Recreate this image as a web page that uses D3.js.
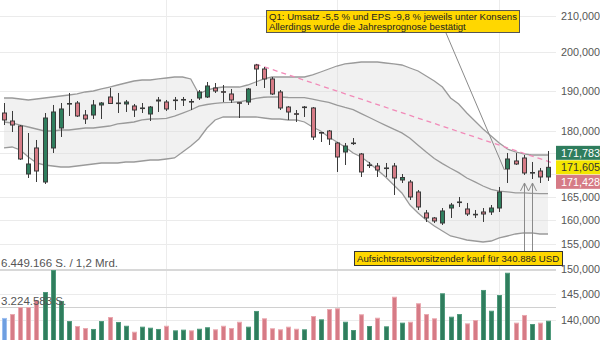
<!DOCTYPE html>
<html><head><meta charset="utf-8">
<script src="https://cdn.jsdelivr.net/npm/d3@7/dist/d3.min.js"></script>
<style>
body{margin:0;background:#fff;}
svg{display:block;font-family:"Liberation Sans",Arial,sans-serif;}
</style>
</head><body>
<svg id="chart" width="600" height="340"></svg>
<script>
// ---------- data ----------
const openP  = [184460,182510,181300,170090,176080,168290,176080,180820,186690,186930,183970,183970,186440,188430,186860,186690,186190,185620,184220,187430,187180,187600,187730,187310,188180,188430,190700,189770,189190,187010,187180,196620,195580,193000,189690,185940,184290,185870,185700,179740,180100,177250,175140,177180,174680,172070,171910,171390,171910,168740,168290,166070,161500,160430,159360,162570,163800,162360,161220,161710,161710,162570,171230,173060,173750,170360,170770,169420];
const highP  = [186930,184960,181540,179620,177960,184460,186440,186930,189440,187430,185200,187680,187180,190700,189440,187680,186690,186930,186190,188430,187680,188430,188430,187930,190190,192230,191970,191460,190450,187180,190700,196880,196100,193510,190190,186190,185200,186190,185940,179860,180340,177490,177250,178430,174910,172830,172600,172600,172600,170090,168740,166510,162140,160640,162570,163660,164970,163660,162140,162570,163220,167180,174910,174910,174440,172830,171460,175370];
const lowP   = [181540,179860,173290,169190,168290,167850,174910,178670,183730,183490,181790,183000,183000,186690,184460,184710,183490,184460,182510,184710,184960,185200,186190,185200,187680,188180,189440,187180,186930,183240,186440,191210,190700,188930,185200,182760,182270,183490,177960,177490,176780,170550,172140,176780,169420,171460,169420,169420,165410,168070,164310,162140,159580,159360,158940,160430,162790,160850,160430,159580,161070,161710,168070,172140,169870,168960,168070,168520];
const closeP = [182760,181540,173520,172370,170770,183240,184710,185450,186810,183730,183000,186440,186930,186810,186930,187180,185200,185700,185940,187680,185450,187680,187810,187180,189690,191210,189940,189690,187680,186930,190450,195580,193000,189190,185700,184710,184220,185940,178670,179620,178200,173980,176540,177250,170550,172140,171000,171460,169190,169300,164970,162790,160430,159790,161930,163220,163880,161280,161130,161280,162570,166070,173520,172370,170320,170430,169420,171605];
const volume = [2270000,2610000,3220000,3220000,3830000,4530000,6449166,3750000,2000000,1570000,1390000,1310000,2000000,2350000,1920000,1590000,1070000,1510000,1420000,1310000,1590000,1190000,1250000,1190000,1330000,1460000,1280000,1590000,1390000,1940000,1510000,2880000,2240000,1370000,1280000,1510000,1330000,1280000,2440000,2150000,3050000,3110000,1940000,1220000,2590000,1570000,2290000,1540000,4120000,1860000,1940000,3550000,2610000,2240000,4420000,2380000,2610000,1800000,2090000,4710000,2900000,4270000,6210000,1860000,2530000,1740000,1860000,2030000];
const bandUpper = [188180,188180,187930,187680,187930,188180,188430,188680,188930,189190,189690,189940,190450,190950,191460,191970,192480,192740,192740,193000,193250,193510,193510,193000,189190,190190,190700,190950,190950,190950,191460,192230,193000,193510,193510,193510,193510,193510,194030,194800,195580,196360,196890,197150,197410,197410,197410,197150,196890,196620,195840,195060,193770,192480,190950,188180,186690,184460,182510,180580,178910,177250,175840,175140,174680,174440,174440,174440];
const bandMiddle = [182270,182030,181540,181060,180580,180100,180100,180340,180340,180580,180820,180820,181060,181300,181790,182030,182270,182760,183000,183020,183140,183710,184440,185200,186160,186560,186830,187030,187080,187240,187620,188070,188370,188480,188430,188310,188260,188260,187880,187480,187110,186390,185820,185300,184320,183360,182390,181470,180530,179650,178360,176730,175120,173640,172460,171390,170390,169190,168310,167400,166640,166250,166110,165870,165870,165780,165690,165720];
const bandLower = [176080,176310,175610,173980,172600,172140,171910,171680,171680,171910,172140,172370,172600,172600,172600,172830,172830,173060,173290,173290,173520,173750,175140,176540,178200,180820,182760,183490,183490,183490,183490,183490,183240,183000,183000,182760,182760,182270,181060,180100,178670,177490,176310,174910,173980,172600,171000,169420,167620,165850,163220,161500,160000,158730,157680,156630,156220,155800,155590,155390,155590,156220,156630,157050,157260,157260,157050,157050];
const priceTicks = [210000,200000,190000,180000,175000,170000,165000,160000,155000,150000,145000,140000];
const monthStarts = [20, 41, 61];
const trendLine = [{i:31, v:196880}, {i:67.6, v:172600}];
const quotes = [
  {label:"171,783", kind:"bid"},
  {label:"171,605", kind:"last", v:171605},
  {label:"171,428", kind:"ask"}
];
const volumeMax = 6449166;
const volumeLabels = ["6.449.166 S. / 1,2 Mrd.", "3.224.583 S."];
const note1 = {lines:["Q1: Umsatz -5,5 % und EPS -9,8 % jeweils unter Konsens","Allerdings wurde die Jahresprognose bestätigt"], target:{i:62, v:171000}};
const note2 = {lines:["Aufsichtsratsvorsitzender kauf für 340.886 USD"], targets:[{i:64, v:168070},{i:65, v:168070}]};

// ---------- scales ----------
const svg = d3.select("#chart");
const W = 600, H = 340;
const n = closeP.length;
const x = d3.scaleLinear().domain([0, n - 1]).range([4, 548]);
const y = d3.scaleLog().domain([210000, 140000]).range([15.5, 320.4]);
const yv = d3.scaleLinear().domain([0, volumeMax]).range([344, 270]);
const gridRight = 556;

const RED = "#d67b86", GREEN = "#2f7d5d", DARK = "#3a3a3a";

// grid
svg.append("g").selectAll("line").data(priceTicks).join("line")
  .attr("x1", 0).attr("x2", gridRight)
  .attr("y1", d => Math.round(y(d)) + 0.5).attr("y2", d => Math.round(y(d)) + 0.5)
  .attr("stroke", "#ebebeb");
svg.append("g").selectAll("line").data(monthStarts).join("line")
  .attr("x1", d => Math.round(x(d)) + 0.5).attr("x2", d => Math.round(x(d)) + 0.5)
  .attr("y1", 0).attr("y2", H).attr("stroke", "#ececec");

// volume guide lines
svg.append("line").attr("x1", 0).attr("x2", gridRight)
  .attr("y1", yv(volumeMax)).attr("y2", yv(volumeMax))
  .attr("stroke", "#d8d8d8").attr("stroke-width", 2);
svg.append("line").attr("x1", 0).attr("x2", gridRight)
  .attr("y1", Math.round(yv(volumeMax / 2)) + 0.5).attr("y2", Math.round(yv(volumeMax / 2)) + 0.5)
  .attr("stroke", "#d0d0d0");

// bollinger band fill
const idx = d3.range(n);
svg.append("path").datum(idx)
  .attr("d", d3.area().x(i => x(i)).y0(i => y(bandLower[i])).y1(i => y(bandUpper[i])))
  .attr("fill", "#dcdcdc").attr("fill-opacity", 0.4);
[bandUpper, bandMiddle, bandLower].forEach(b => {
  svg.append("path").datum(idx)
    .attr("d", d3.line().x(i => x(i)).y(i => y(b[i])))
    .attr("fill", "none").attr("stroke", "#9a9a9a").attr("stroke-width", 1.3);
});

// trend line
svg.append("path").datum(trendLine)
  .attr("d", d3.line().x(d => x(d.i)).y(d => y(d.v)))
  .attr("stroke", "#f28ab8").attr("stroke-width", 1.3).attr("stroke-dasharray", "5,4").attr("fill", "none");

// volume bars
svg.append("g").selectAll("rect").data(idx).join("rect")
  .attr("x", i => Math.round(x(i)) - 2 + 0.5)
  .attr("width", 4)
  .attr("y", i => yv(volume[i]) + 0.5)
  .attr("height", i => yv(0) - yv(volume[i]))
  .attr("fill", i => i === 0 ? "#6f9fe0" : (closeP[i] >= closeP[i - 1] ? GREEN : RED))
  .attr("stroke", i => i === 0 ? "#9dbff0" : (closeP[i] >= closeP[i - 1] ? "#4f9a7c" : "#eaa9b0"))
  .attr("stroke-width", 1);

// candles
const cg = svg.append("g");
cg.selectAll("line").data(idx).join("line")
  .attr("x1", i => Math.round(x(i)) + 0.5).attr("x2", i => Math.round(x(i)) + 0.5)
  .attr("y1", i => y(highP[i])).attr("y2", i => y(lowP[i]))
  .attr("stroke", DARK).attr("stroke-width", 1);
cg.selectAll("rect").data(idx).join("rect")
  .attr("x", i => Math.round(x(i)) - 2 + 0.5)
  .attr("width", 4)
  .attr("y", i => Math.min(y(openP[i]), y(closeP[i])))
  .attr("height", i => Math.max(0.6, Math.abs(y(openP[i]) - y(closeP[i]))))
  .attr("fill", i => closeP[i] >= openP[i] ? GREEN : RED)
  .attr("stroke", DARK).attr("stroke-width", 1);

// quote boxes geometry
const lastY = y(quotes[1].v);
const boxTop = lastY - 7 - 14.5, boxBottom = lastY + 7 + 14.5;

// axis labels (those hidden behind the quote boxes are not drawn)
svg.append("g").selectAll("text")
  .data(priceTicks.filter(d => y(d) < boxTop - 4 || y(d) > boxBottom + 4)).join("text")
  .attr("x", 561).attr("y", d => y(d) + 4)
  .attr("font-size", 10.8).attr("fill", "#555")
  .text(d => d3.format(",")(d));

const qColors = {bid:[GREEN,"#fff"], last:["#f3e600","#333"], ask:[RED,"#fff"]};
quotes.forEach((q, k) => {
  const cy = lastY + (k - 1) * 14.5;
  svg.append("rect").attr("x", 556).attr("y", cy - 7).attr("width", 46).attr("height", 14)
    .attr("fill", qColors[q.kind][0]);
  svg.append("text").attr("x", 561).attr("y", cy + 4).attr("font-size", 10.8)
    .attr("fill", qColors[q.kind][1]).text(q.label);
});

// volume labels
svg.append("text").attr("x", 1).attr("y", yv(volumeMax) - 3).attr("font-size", 11.5).attr("fill", "#555").text(volumeLabels[0]);
svg.append("text").attr("x", 1).attr("y", yv(volumeMax / 2) - 2).attr("font-size", 11.5).attr("fill", "#555").text(volumeLabels[1]);

// annotation 1
svg.append("line").attr("x1", 446).attr("y1", 33).attr("x2", x(note1.target.i) - 3).attr("y2", y(note1.target.v))
  .attr("stroke", "#8a8a8a");
svg.append("rect").attr("x", 266.5).attr("y", 10.5).attr("width", 253).attr("height", 22)
  .attr("fill", "#ffd700").attr("stroke", "#555");
note1.lines.forEach((t, k) => svg.append("text").attr("x", 269).attr("y", 19.5 + k * 10)
  .attr("font-size", 9.6).attr("fill", "#222").text(t));

// annotation 2
note2.targets.forEach(t => {
  const tx = Math.round(x(t.i)) + 0.5, ty = y(t.v);
  svg.append("line").attr("x1", tx).attr("x2", tx).attr("y1", ty).attr("y2", 251).attr("stroke", "#8a8a8a");
  svg.append("path").attr("d", `M${tx - 4},${ty + 8}L${tx},${ty}L${tx + 4},${ty + 8}`)
    .attr("fill", "none").attr("stroke", "#8a8a8a");
});
svg.append("rect").attr("x", 354.5).attr("y", 251.5).attr("width", 208).attr("height", 14)
  .attr("fill", "#ffd700").attr("stroke", "#333");
svg.append("text").attr("x", 357).attr("y", 262).attr("font-size", 9.6).attr("fill", "#222").text(note2.lines[0]);
</script>
</body></html>
